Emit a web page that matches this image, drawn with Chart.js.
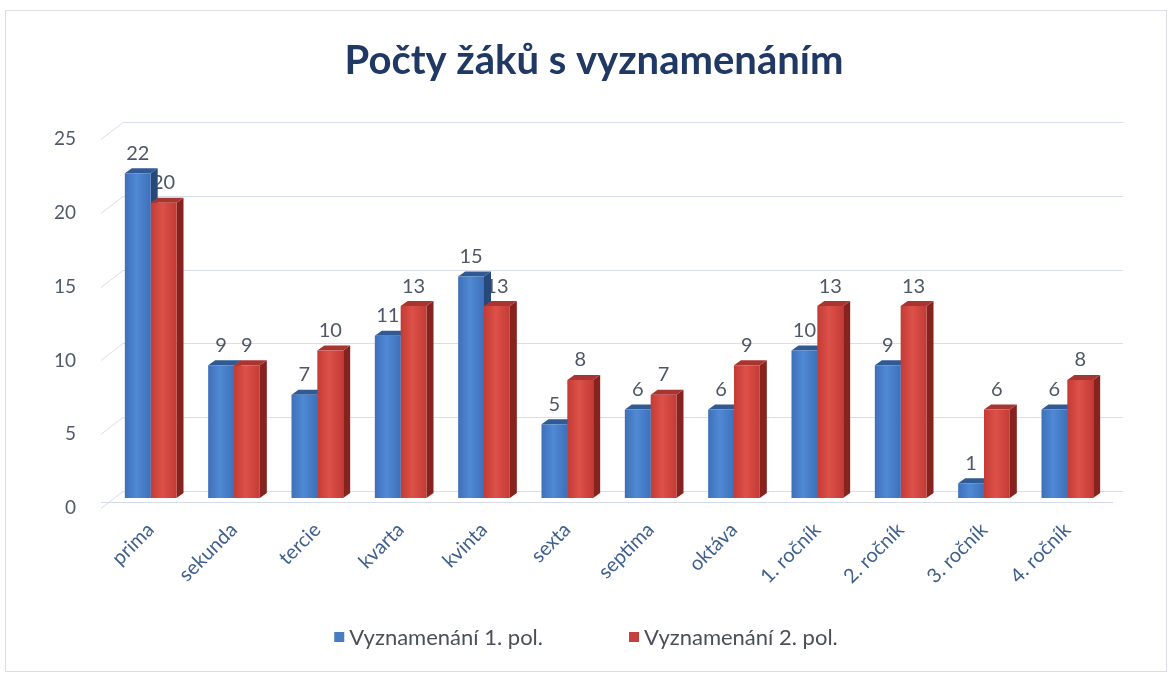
<!DOCTYPE html>
<html>
<head>
<meta charset="utf-8">
<script src="https://cdn.jsdelivr.net/npm/chart.js@4.4.1/dist/chart.umd.min.js"></script>
<style>
  body { margin: 0; background: #fff; }
  #wrap { position: absolute; left: 5px; top: 10px; width: 1160px; height: 660px; border: 1px solid #dadde3; }
</style>
</head>
<body>
<div id="wrap"><canvas id="chart" width="1160" height="660"></canvas></div>
<script>
const categories = ['prima', 'sekunda', 'tercie', 'kvarta', 'kvinta', 'sexta', 'septima', 'oktáva', '1. ročník', '2. ročník', '3. ročník', '4. ročník'];
const pol1 = [22, 9, 7, 11, 15, 5, 6, 6, 10, 9, 1, 6];
const pol2 = [20, 9, 10, 13, 13, 8, 7, 9, 13, 13, 6, 8];
const seriesNames = ['Vyznamenání 1. pol.', 'Vyznamenání 2. pol.'];
const yMin = 0, yMax = 25, yStep = 5;

const FONT = 'Lato, "Open Sans", sans-serif';
const CAT_PCT = 0.62;
const DX = 7, DY = 5; // fake 3D depth

// front / top / side colours per series
const palette = [
    { edge: '#3e70b9', mid: '#5089d4', top: '#2f5a94', side: '#27497a', legend: '#4a7cc6' },
    { edge: '#c43a35', mid: '#dc5249', top: '#a83530', side: '#86231f', legend: '#c8403b' }
];

function barFill(ctx) {
    const p = palette[ctx.datasetIndex];
    const chart = ctx.chart;
    if (!chart.chartArea || ctx.dataIndex === undefined) return p.edge;
    const xs = chart.scales.x;
    const bw = xs.width / categories.length * CAT_PCT / 2;
    const left = xs.getPixelForValue(ctx.dataIndex) - bw + ctx.datasetIndex * bw;
    const g = chart.ctx.createLinearGradient(left, 0, left + bw, 0);
    g.addColorStop(0, p.edge);
    g.addColorStop(0.45, p.mid);
    g.addColorStop(1, p.edge);
    return g;
}

const fake3d = {
    id: 'fake3d',
    beforeDatasetsDraw(chart) {
        const c = chart.ctx;
        const area = chart.chartArea;
        const ys = chart.scales.y;
        c.save();
        // back wall grid + left wall diagonals
        c.strokeStyle = '#d8deea';
        c.lineWidth = 1;
        for (let v = yMin; v <= yMax; v += yStep) {
            const y = Math.round(ys.getPixelForValue(v)) + 0.5;
            c.beginPath();
            c.moveTo(area.left - 8, y + 10);
            c.lineTo(area.left + 14, y - 7);
            c.lineTo(area.right + 14, y - 7);
            c.stroke();
        }
        // floor front edge
        c.strokeStyle = '#d4dae6';
        c.beginPath();
        c.moveTo(area.left - 8, area.bottom + 4.5);
        c.lineTo(area.right + 4, area.bottom + 4.5);
        c.stroke();

        // value labels (drawn first so neighbouring bars can cover them)
        c.font = '20px ' + FONT;
        c.fillStyle = '#4f5766';
        c.textAlign = 'center';
        c.textBaseline = 'middle';
        chart.data.datasets.forEach((ds, di) => {
            chart.getDatasetMeta(di).data.forEach((el, i) => {
                c.fillText(String(ds.data[i]), el.x, el.y - 20);
            });
        });

        // top and side faces
        chart.data.datasets.forEach((ds, di) => {
            const p = palette[di];
            chart.getDatasetMeta(di).data.forEach(el => {
                const l = el.x - el.width / 2, r = el.x + el.width / 2;
                c.fillStyle = p.side;
                c.beginPath();
                c.moveTo(r, el.y);
                c.lineTo(r + DX, el.y - DY);
                c.lineTo(r + DX, el.base - DY);
                c.lineTo(r, el.base);
                c.closePath();
                c.fill();
                c.fillStyle = p.top;
                c.beginPath();
                c.moveTo(l, el.y);
                c.lineTo(l + DX, el.y - DY);
                c.lineTo(r + DX, el.y - DY);
                c.lineTo(r, el.y);
                c.closePath();
                c.fill();
            });
        });
        c.restore();
    },
    afterDraw(chart) {
        // bottom legend
        const c = chart.ctx;
        c.save();
        c.font = '22px ' + FONT;
        c.textBaseline = 'middle';
        c.textAlign = 'left';
        const gap = 86, box = 10, boxGap = 5;
        const widths = chart.data.datasets.map(ds => box + boxGap + c.measureText(ds.label).width);
        let x = (chart.width - (widths[0] + gap + widths[1])) / 2;
        const y = 626;
        chart.data.datasets.forEach((ds, di) => {
            c.fillStyle = palette[di].legend;
            c.fillRect(x, y - box / 2, box, box);
            c.fillStyle = '#4a4f58';
            c.fillText(ds.label, x + box + boxGap, y + 1);
            x += widths[di] + gap;
        });
        c.restore();
    }
};

new Chart(document.getElementById('chart'), {
    type: 'bar',
    data: {
        labels: categories,
        datasets: [
            { label: seriesNames[0], data: pol1, backgroundColor: barFill },
            { label: seriesNames[1], data: pol2, backgroundColor: barFill }
        ]
    },
    options: {
        responsive: false,
        animation: false,
        devicePixelRatio: 1,
        datasets: { bar: { categoryPercentage: CAT_PCT, barPercentage: 1 } },
        layout: { padding: { left: 40, right: 24, top: 0, bottom: 63 } },
        plugins: {
            legend: { display: false },
            tooltip: { enabled: false },
            title: {
                display: true,
                text: 'Počty žáků s vyznamenáním',
                color: '#1f3864',
                font: { family: FONT, size: 40, weight: 'bold' },
                padding: { top: 26, bottom: 44 }
            }
        },
        scales: {
            x: {
                grid: { display: false },
                border: { display: false },
                afterFit(scale) { scale.height = 110; },
                ticks: {
                    color: '#3f5f8f',
                    font: { family: FONT, size: 20 },
                    minRotation: 45,
                    maxRotation: 45,
                    padding: 12
                }
            },
            y: {
                min: yMin,
                max: yMax,
                grid: { display: false },
                border: { display: false },
                afterFit(scale) { scale.width = 63; },
                ticks: {
                    stepSize: yStep,
                    color: '#505a6a',
                    font: { family: FONT, size: 19 },
                    padding: 25,
                    labelOffset: 10
                }
            },
            // empty right-hand spacer so the title stays centred on the page
            yRight: {
                position: 'right',
                min: yMin,
                max: yMax,
                grid: { display: false },
                border: { display: false },
                ticks: { display: false },
                afterFit(scale) { scale.width = 33; }
            }
        }
    },
    plugins: [fake3d]
});
</script>
</body>
</html>
